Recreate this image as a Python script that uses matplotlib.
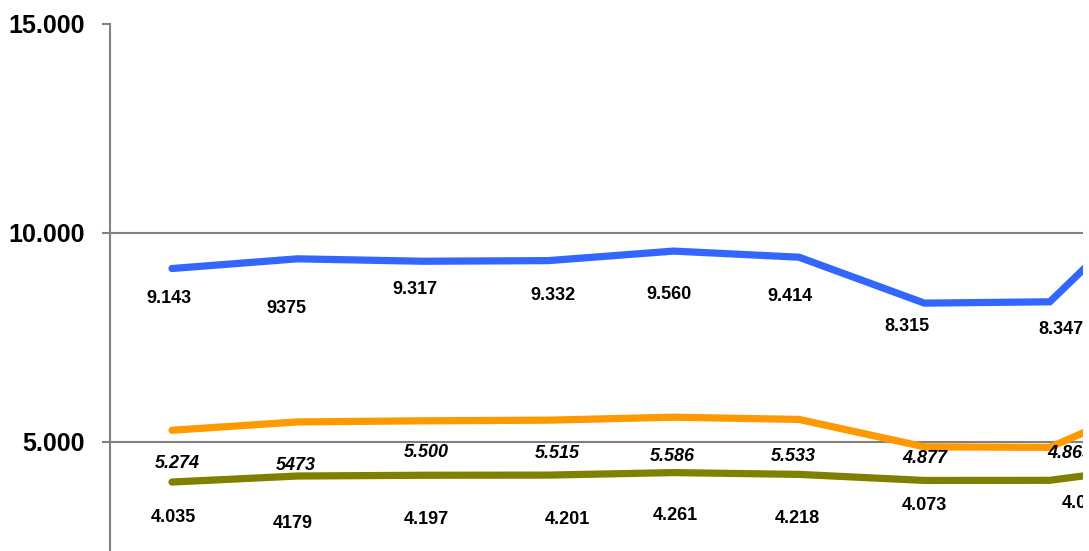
import matplotlib
matplotlib.use("Agg")
import matplotlib.pyplot as plt

plt.rcParams['font.family'] = ['Liberation Sans', 'DejaVu Sans']

# ---- data ----
x_index = [0, 1, 2, 3, 4, 5, 6, 7, 8]
blue_values = [9143, 9375, 9317, 9332, 9560, 9414, 8315, 8347, 11240]
orange_values = [5274, 5473, 5500, 5515, 5586, 5533, 4877, 4865, 6170]
green_values = [4035, 4179, 4197, 4201, 4261, 4218, 4073, 4076, 4470]

blue_labels = ["9.143", "9375", "9.317", "9.332", "9.560", "9.414", "8.315", "8.347"]
orange_labels = ["5.274", "5473", "5.500", "5.515", "5.586", "5.533", "4.877", "4.865"]
green_labels = ["4.035", "4179", "4.197", "4.201", "4.261", "4.218", "4.073", "4.076"]

y_ticks = [5000, 10000, 15000]
y_tick_labels = ["5.000", "10.000", "15.000"]

# ---- layout (label offsets in pixels, relative to point) ----
blue_off = [(-3, -30), (-11, -50), (-8, -28), (5, -35), (-5, -43), (-9, -39), (-17, -23), (11, -28)]
orange_off = [(5, -33), (-2, -44), (4, -32), (9, -33), (-1, -39), (-6, -37), (0, -12), (20, -6)]
green_off = [(1, -35), (-5, -47), (4, -44), (19, -44), (2, -43), (-2, -44), (0, -25), (35, -23)]

W, H = 1089, 551
fig = plt.figure(figsize=(W / 100, H / 100), dpi=100)
ax = fig.add_axes([110 / W, 0, (1083 - 110) / W, 1 - 23.7 / H])

step = 125.4
ax.set_xlim(-(172 - 110) / step, (1083 - 172) / step)
ax.set_ylim(15000 - (551 - 23.7) / 209 * 5000, 15000)

grid_c = '#808080'
for t in y_ticks[:-1]:
    ax.axhline(t, color=grid_c, lw=1.5, zorder=1)

series = [
    (blue_values, blue_labels, blue_off, '#3366FF', 'normal'),
    (orange_values, orange_labels, orange_off, '#FF9900', 'italic'),
    (green_values, green_labels, green_off, '#808000', 'normal'),
]
for vals, labs, offs, col, style in series:
    ax.plot(x_index, vals, color=col, lw=5.2, solid_capstyle='round',
            solid_joinstyle='miter', zorder=2)
    for i, lab in enumerate(labs):
        ax.annotate(lab, (x_index[i], vals[i]), xytext=offs[i],
                    textcoords='offset pixels', ha='center', va='center',
                    fontsize=13, fontweight='bold', fontstyle=style,
                    color='black', clip_on=True, annotation_clip=False, zorder=3)

for s in ['top', 'right', 'bottom']:
    ax.spines[s].set_visible(False)
ax.spines['left'].set_color(grid_c)
ax.spines['left'].set_linewidth(1.5)

ax.set_xticks([])
ax.set_yticks(y_ticks)
ax.set_yticklabels(y_tick_labels, fontsize=18, fontweight='bold')
ax.tick_params(axis='y', length=6, width=1.5, color=grid_c, pad=12)

fig.savefig('out.png', dpi=100)
